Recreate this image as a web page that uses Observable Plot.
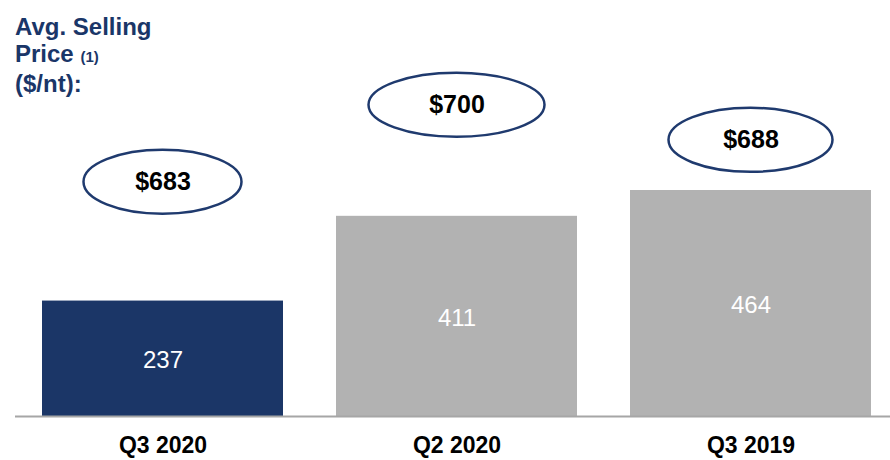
<!DOCTYPE html>
<html>
<head>
<meta charset="utf-8">
<script src="https://cdn.jsdelivr.net/npm/d3@7"></script>
<script src="https://cdn.jsdelivr.net/npm/@observablehq/plot@0.6"></script>
<style>
  html, body { margin: 0; padding: 0; background: #fff; }
  #wrap { position: relative; width: 890px; height: 460px; font-family: "Liberation Sans", Arial, sans-serif; }
  #title { position: absolute; left: 15px; top: 13px; color: #1a3668; font-weight: bold; font-size: 24px; line-height: 27px; }
  #title small { font-size: 15px; }
</style>
</head>
<body>
<div id="wrap">
  <div id="chart"></div>
  <div id="title">Avg. Selling<br>Price <small>(1)</small><br>($/nt):</div>
</div>
<script>
// Data
const categories = ["Q3 2020", "Q2 2020", "Q3 2019"];
const volumes = [237, 411, 464];
const aspValues = [683, 700, 688];
const aspLabels = ["$683", "$700", "$688"];
// Callout placement, in y-scale (data) units
const calloutLevel = [481, 639, 567];

// Styles
const barColors = ["#1b3667", "#b2b2b2", "#b2b2b2"];
const ovalRx = [79, 88, 82];

const rows = categories.map((c, i) => ({
  cat: c, vol: volumes[i], asp: aspValues[i], aspLabel: aspLabels[i],
  level: calloutLevel[i], color: barColors[i], rx: ovalRx[i]
}));

const ovals = Plot.dot(rows, {
  x: "cat", y: "level",
  render(index, scales, values) {
    const g = d3.create("svg:g");
    for (const i of index) {
      g.append("ellipse")
        .attr("cx", values.x[i] + scales.x.bandwidth() / 2)
        .attr("cy", values.y[i])
        .attr("rx", rows[i].rx)
        .attr("ry", 32)
        .attr("fill", "#fff")
        .attr("stroke", "#1f3a6e")
        .attr("stroke-width", 2.5);
    }
    return g.node();
  }
});

const plot = Plot.plot({
  width: 890,
  height: 460,
  marginLeft: 42,
  marginRight: 18,
  marginTop: 2,
  marginBottom: 44,
  style: { fontFamily: "Liberation Sans, Arial, sans-serif", background: "#fff" },
  x: { domain: categories, paddingInner: 0.18, paddingOuter: 0, label: null },
  y: { domain: [0, 850], axis: null },
  marks: [
    Plot.barY(rows, { x: "cat", y: "vol", fill: "color" }),
    Plot.ruleY([0], { stroke: "#a6a6a6", strokeWidth: 2, insetLeft: -27, insetRight: -18 }),
    Plot.text(rows, { x: "cat", y: d => d.vol / 2, text: d => String(d.vol), fill: "#ffffff", fontSize: 24, dy: 2 }),
    ovals,
    Plot.text(rows, { x: "cat", y: "level", text: "aspLabel", fill: "#000", fontSize: 25, fontWeight: "bold" }),
    Plot.axisX({ tickSize: 0, tickPadding: 20, fontSize: 23, fontWeight: "bold", color: "#000", label: null })
  ]
});
document.getElementById("chart").appendChild(plot);
</script>
</body>
</html>
